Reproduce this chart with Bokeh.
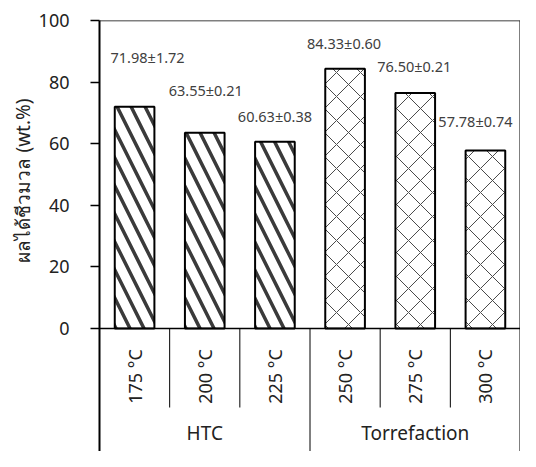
import numpy as np
from bokeh.plotting import figure
from bokeh.models import FactorRange, Range1d, FixedTicker, ColumnDataSource, Span, Title
from bokeh.core.properties import value
from bokeh.embed import file_html
from bokeh.resources import INLINE

# ---- data ----
groups = ["HTC", "HTC", "HTC", "Torrefaction", "Torrefaction", "Torrefaction"]
temps = ["175 °C", "200 °C", "225 °C", "250 °C", "275 °C", "300 °C"]
yields = [71.98, 63.55, 60.63, 84.33, 76.50, 57.78]
errors = [1.72, 0.21, 0.38, 0.60, 0.21, 0.74]
y_ticks = [0, 20, 40, 60, 80, 100]
y_label = "ผลได้ชีวมวล (wt.%)"

# ---- label placement (pixels) ----
label_lift_px = [50, 43, 26, 26, 27, 30]
label_dx_px = [13, 1, 0, -1, -1, -10]

FONT = "Noto Sans"
W, H = 520, 451
LEFT, TOP = 99, 20
ZERO_PX = 308          # pixels from frame top to y=0
y_hi = 100
px_per_unit = ZERO_PX / y_hi
y_lo = -(H - TOP - ZERO_PX) / px_per_unit

def down(px):
    return -px / px_per_unit

p = figure(width=W, height=H, x_range=FactorRange(*temps, range_padding=0),
           y_range=Range1d(y_lo, y_hi), output_backend="svg", toolbar_location=None,
           min_border_left=LEFT, min_border_right=0, min_border_top=TOP, min_border_bottom=0)
p.outline_line_color = None
p.grid.visible = False
p.xaxis.visible = False
p.background_fill_color = "white"
p.border_fill_color = "white"

ya = p.yaxis[0]
ya.ticker = FixedTicker(ticks=y_ticks)
ya.axis_line_width = 2
ya.axis_line_color = "black"
ya.major_tick_line_color = "black"
ya.major_tick_line_width = 1.5
ya.major_tick_out = 9
ya.major_tick_in = 0
ya.minor_tick_line_color = None
ya.major_label_text_font = FONT
ya.major_label_text_font_size = "18px"
ya.major_label_text_color = "#222222"
ya.major_label_standoff = 21

# y axis title (placed on the left, starting above the category labels)
p.add_layout(Title(text=y_label, align="left", offset=189, text_font=FONT,
                   text_font_size="19px", text_font_style="normal",
                   text_color="#222222", standoff=0), "left")

# bars
for g, pattern, scale, weight, hcol in [("HTC", "\\", 28, 3.5, "#3a3a3a"),
                                        ("Torrefaction", "x", 24, 1, "#4a4a4a")]:
    idx = [i for i, gg in enumerate(groups) if gg == g]
    src = ColumnDataSource(dict(x=[temps[i] for i in idx], top=[yields[i] for i in idx]))
    p.vbar(x="x", top="top", bottom=0, width=0.565, source=src,
           fill_color="white", line_color="black", line_width=2,
           hatch_pattern=pattern, hatch_scale=scale, hatch_weight=weight,
           hatch_color=hcol)

# value labels
labels = [f"{v:.2f}±{e:.2f}" for v, e in zip(yields, errors)]
lab_src = ColumnDataSource(dict(
    x=temps,
    y=[v + l / px_per_unit for v, l in zip(yields, label_lift_px)],
    dx=label_dx_px,
    text=labels))
p.text(x="x", y="y", text="text", x_offset="dx", source=lab_src,
       text_align="center", text_baseline="middle",
       text_font=value(FONT), text_font_size="14.5px", text_color="#404040")

# frame lines
p.add_layout(Span(location=y_hi, dimension="width", line_color="black", line_width=1.5))
p.add_layout(Span(location=len(temps), dimension="height", line_color="black", line_width=2))
p.add_layout(Span(location=0, dimension="width", line_color="black", line_width=1.5))

# category axis: separators
inner = [i for i in range(1, len(temps)) if groups[i] == groups[i - 1]]
outer = [i for i in range(1, len(temps)) if groups[i] != groups[i - 1]]
p.segment(x0=inner, x1=inner, y0=[0] * len(inner), y1=[down(79)] * len(inner),
          line_color="black", line_width=1)
p.segment(x0=outer, x1=outer, y0=[0] * len(outer), y1=[y_lo] * len(outer),
          line_color="black", line_width=1)

# temperature labels
p.text(x=temps, y=[down(48)] * len(temps), text=temps, angle=np.pi / 2,
       text_align="center", text_baseline="middle",
       text_font=value(FONT), text_font_size="18px", text_color="#222222")

# group labels
ug = list(dict.fromkeys(groups))
gx = [np.mean([i + 0.5 for i, gg in enumerate(groups) if gg == g]) for g in ug]
p.text(x=gx, y=[down(104)] * len(ug), text=ug, text_align="center", text_baseline="middle",
       text_font=value(FONT), text_font_size="19px", text_color="#222222")

open("out.html", "w").write(file_html(p, INLINE))
